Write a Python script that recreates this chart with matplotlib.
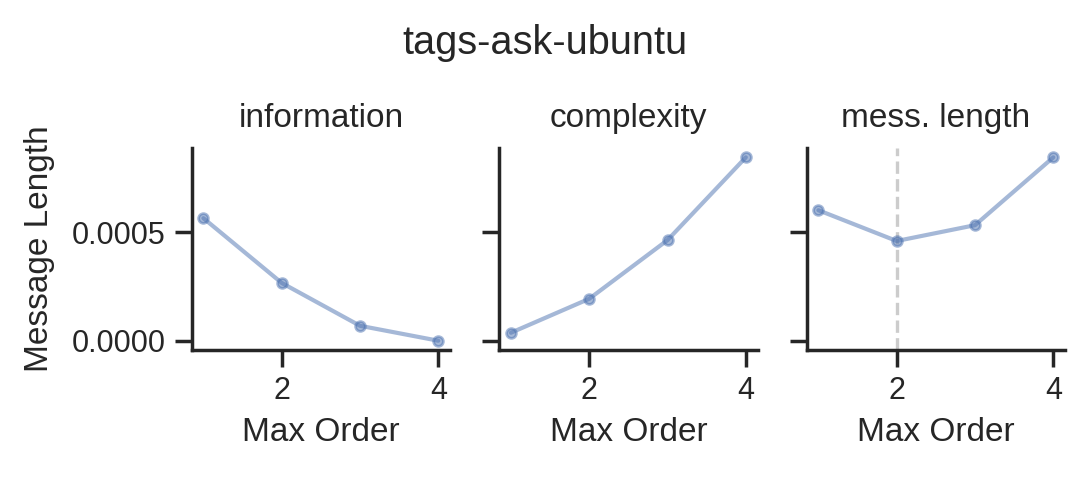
import numpy as np
import matplotlib
matplotlib.use("Agg")
import matplotlib.pyplot as plt
import seaborn as sns

sns.set_theme(style="ticks")
plt.rcParams["font.family"] = ["Liberation Sans", "DejaVu Sans"]

# values
max_order = [1, 2, 3, 4]
information = [0.000564, 0.000266, 0.0000688, 0.0]
complexity = [0.0000367, 0.000193, 0.000463, 0.000844]
mess_length = [i + c for i, c in zip(information, complexity)]

panels = {
    "information": information,
    "complexity": complexity,
    "mess. length": mess_length,
}
BLUE = "#4C72B0"

fig, axes = plt.subplots(1, 3, figsize=(5.445, 2.39), dpi=200, sharey=True)
for ax, (name, vals) in zip(axes, panels.items()):
    ax.plot(max_order, vals, color=BLUE, alpha=0.5, lw=1.5, marker="o", markersize=3.5)
    ax.set_title(name, fontsize=12, pad=7.5)
    ax.set_xlabel("Max Order", fontsize=12)
    ax.set_xticks([2, 4])
    ax.tick_params(labelsize=11)
    if name == "mess. length":
        best = max_order[int(np.argmin(vals))]
        ax.axvline(best, color="0.8", ls="--", lw=1.2, zorder=0)
axes[0].set_ylabel("Message Length", fontsize=12, labelpad=6)
axes[0].set_yticks([0.0, 0.0005])
axes[0].yaxis.set_major_formatter(matplotlib.ticker.FormatStrFormatter("%.4f"))
sns.despine(fig)
fig.suptitle("tags-ask-ubuntu", fontsize=14.3, y=0.95)
fig.subplots_adjust(left=0.176, right=0.978, top=0.69, bottom=0.268, wspace=0.19)
fig.savefig("out.png", dpi=200)
